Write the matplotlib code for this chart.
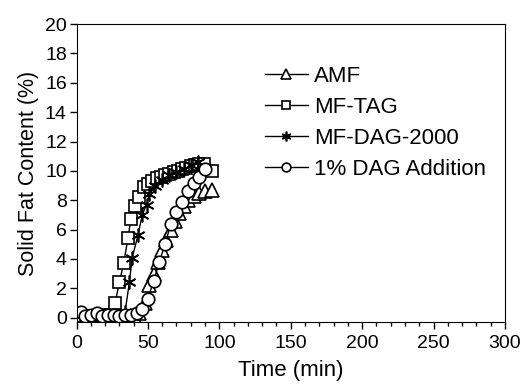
import numpy as np
import matplotlib
matplotlib.use("Agg")
import matplotlib.pyplot as plt
from matplotlib.ticker import MultipleLocator

plt.rcParams['font.family'] = ['Liberation Sans', 'DejaVu Sans']

# AMF (triangles)
amf_t = [0, 4, 8, 12, 16, 20, 24, 28, 32, 36, 40, 44, 48, 51, 54, 57, 60, 63, 66, 69, 72, 75, 78, 82, 86, 90, 95]
amf_y = [0.1, 0.1, 0.0, 0.1, 0.2, 0.1, 0.0, 0.1, 0.0, 0.0, 0.1, 0.3, 1.0, 2.2, 3.0, 3.8, 4.6, 5.3, 6.0, 6.6, 7.1, 7.6, 8.0, 8.3, 8.5, 8.6, 8.7]

# MF-TAG (squares)
tag_t = [0, 3, 6, 9, 12, 15, 18, 21, 24, 27, 30, 33, 36, 38, 41, 44, 47, 50, 53, 56, 59, 62, 65, 68, 71, 74, 77, 80, 83, 86, 89, 95]
tag_y = [0.0, 0.1, 0.1, 0.0, 0.1, 0.1, 0.2, 0.1, 0.2, 1.0, 2.4, 3.7, 5.4, 6.7, 7.6, 8.2, 8.9, 9.1, 9.3, 9.5, 9.6, 9.7, 9.8, 9.9, 10.0, 10.1, 10.2, 10.3, 10.4, 10.5, 10.5, 10.0]

# MF-DAG-2000 (stars)
dag_t = [0, 5, 10, 15, 20, 25, 30, 34, 37, 39, 43, 46, 49, 51, 55, 60, 65, 70, 75, 80, 85]
dag_y = [0.0, 0.0, 0.0, 0.1, 0.0, 0.1, 0.1, 0.4, 2.4, 4.1, 5.6, 7.0, 7.7, 8.4, 9.0, 9.4, 9.7, 9.9, 10.1, 10.4, 10.6]

# 1% DAG Addition (circles)
add_t = [0, 3, 6, 10, 14, 18, 22, 26, 30, 34, 38, 42, 46, 50, 54, 58, 62, 66, 70, 74, 78, 82, 86, 90]
add_y = [0.2, 0.4, 0.1, 0.2, 0.3, 0.1, 0.2, 0.2, 0.1, 0.2, 0.2, 0.3, 0.6, 1.3, 2.5, 3.8, 5.0, 6.4, 7.2, 7.9, 8.6, 9.2, 9.6, 10.1]

fig = plt.figure(figsize=(5.23, 3.89), dpi=100)
ax = fig.add_axes([0.1463, 0.172, 0.8193, 0.766])

style = dict(color='black', lw=1.0, mfc='white', mec='black', mew=1.2)
ax.plot(amf_t, amf_y, marker='^', ms=9.5, label='AMF', **style)
ax.plot(tag_t, tag_y, marker='s', ms=9, label='MF-TAG', **style)
ax.plot(dag_t, dag_y, marker=(6, 2, 0), ms=10, label='MF-DAG-2000', **style)
ax.plot(add_t, add_y, marker='o', ms=9, label='1% DAG Addition', **style)

ax.set_xlim(0, 300)
ax.set_ylim(-0.3, 20)
ax.xaxis.set_major_locator(MultipleLocator(50))
ax.xaxis.set_minor_locator(MultipleLocator(10))
ax.yaxis.set_major_locator(MultipleLocator(2))
ax.tick_params(axis='both', which='major', direction='out', length=5, width=1, labelsize=14, pad=2)
ax.tick_params(axis='x', which='minor', direction='out', length=3, width=1)
ax.tick_params(axis='x', pad=4)

ax.set_xlabel('Time (min)', fontsize=16, labelpad=6)
ax.set_ylabel('Solid Fat Content (%)', fontsize=15.5, labelpad=4)

leg = ax.legend(loc='upper left', bbox_to_anchor=(0.42, 0.89), frameon=False, fontsize=16,
                handlelength=1.9, handletextpad=0.3, labelspacing=0.45, borderaxespad=0,
                markerscale=0.7)

fig.savefig('out.png', dpi=100)
